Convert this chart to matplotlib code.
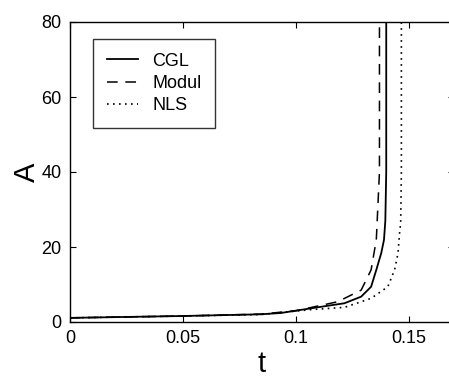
import numpy as np
import matplotlib
matplotlib.use('Agg')
import matplotlib.pyplot as plt

plt.rcParams['font.family'] = ['Liberation Sans', 'DejaVu Sans']

# values
t_cgl = [0.0, 0.05, 0.0844, 0.0933, 0.1067, 0.1215, 0.1289, 0.1333, 0.1356, 0.1378, 0.139, 0.1396, 0.140, 0.140]
A_cgl = [1.1, 1.6, 2.05, 2.4, 3.65, 5.0, 6.76, 9.4, 13.9, 18.4, 21.9, 27.0, 40.0, 80.0]

t_mod = [0.0, 0.05, 0.0844, 0.1, 0.1185, 0.1289, 0.1333, 0.1356, 0.136, 0.137, 0.137]
A_mod = [1.1, 1.6, 2.1, 3.0, 5.4, 8.5, 13.9, 21.9, 27.0, 40.0, 80.0]

t_nls = [0.0, 0.05, 0.0844, 0.1067, 0.1215, 0.1333, 0.1407, 0.1437, 0.1452, 0.1459, 0.1464, 0.1467, 0.1467]
A_nls = [1.1, 1.6, 2.0, 3.3, 3.9, 6.3, 9.4, 13.9, 18.3, 23.7, 26.4, 40.0, 80.0]

fig = plt.figure(figsize=(4.49, 3.79), dpi=100)
# right spine falls just outside the picture, as in the original
ax = fig.add_axes([70/449, 1 - 322/379, 384/449, 300/379])

ax.plot(t_cgl, A_cgl, 'k-', lw=1.3, label='CGL')
ax.plot(t_mod, A_mod, 'k', ls=(0, (7, 5)), lw=1.1, label='Modul')
ax.plot(t_nls, A_nls, 'k', ls=(0, (1, 2.6)), lw=1.2, label='NLS')

ax.set_xlim(0, 0.17)
ax.set_ylim(0, 80)
ax.set_xticks([0, 0.05, 0.1, 0.15])
ax.set_xticklabels(['0', '0.05', '0.1', '0.15'])
ax.set_yticks([0, 20, 40, 60, 80])
ax.tick_params(direction='in', top=True, right=True, labelsize=13, length=4, width=0.8, pad=6)
for s in ax.spines.values():
    s.set_linewidth(1.0)

ax.set_xlabel('t', fontsize=21, labelpad=2)
ax.set_ylabel('A', fontsize=21, labelpad=0)

leg = ax.legend(loc='upper left', bbox_to_anchor=(23/384, 1 - 17/300), fontsize=13,
                frameon=True, fancybox=False, edgecolor='k', handlelength=1.75,
                handletextpad=0.8, borderpad=0.75, labelspacing=0.3, borderaxespad=0)
leg.get_frame().set_linewidth(1.0)

fig.savefig('out.png', dpi=100)
